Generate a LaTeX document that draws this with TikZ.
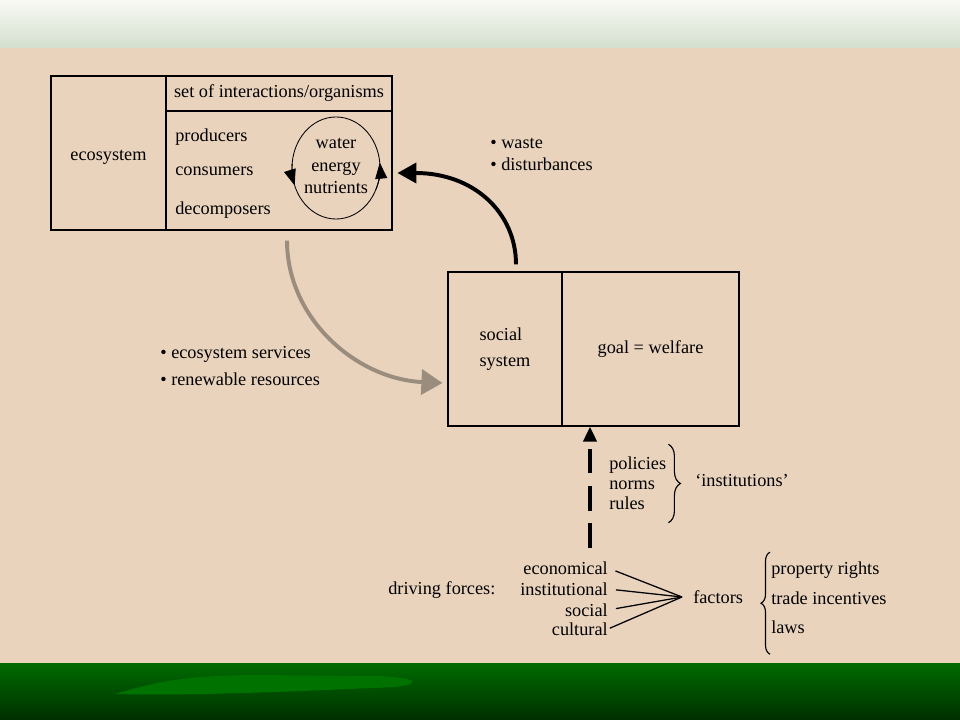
\documentclass[tikz,border=0pt]{standalone}
\usepackage{fontspec}
\setmainfont{Liberation Serif}
\usetikzlibrary{positioning,arrows.meta,shapes.geometric,decorations.pathreplacing}
\definecolor{beige}{RGB}{233,211,189}
\definecolor{skytop}{RGB}{249,249,244}
\definecolor{skybot}{RGB}{211,223,206}
\definecolor{grasstop}{RGB}{0,108,0}
\definecolor{grassbot}{RGB}{0,46,0}
\definecolor{grasslight}{RGB}{0,114,0}
\definecolor{flowgray}{RGB}{155,141,126}

\begin{document}
\begin{tikzpicture}[x=0.025cm, y=-0.025cm,
	cell/.style={rectangle, draw=black, line width=0.8pt, inner sep=0pt, font=\fontsize{13}{16}\selectfont},
	txt/.style={inner sep=0pt, font=\fontsize{13}{16}\selectfont},
	wasteflow/.style={line width=2.8pt, -{Triangle[length=0.475cm, width=0.5cm]}},
	serviceflow/.style={color=flowgray, line width=2.8pt, -{Triangle[length=0.525cm, width=0.625cm]}},
	instflow/.style={line width=3pt, dash pattern=on 17.5pt off 9pt, -{Triangle[length=0.375cm, width=0.325cm]}},
	loopflow/.style={line width=0.6pt, -{Triangle[length=0.4cm, width=0.3cm]}},
	fan/.style={line width=0.9pt, shorten <=0.2cm},
	brace/.style={decorate, line width=0.8pt}
	]

	\useasboundingbox (0,0) rectangle (960,720);
	\fill[top color=skytop, bottom color=skybot] (0,0) rectangle (960,48);
	\fill[beige] (0,48) rectangle (960,663);
	\fill[top color=grasstop, bottom color=grassbot] (0,663) rectangle (960,720);
	\fill[grasslight] (115,694) .. controls (150,684) and (175,676) .. (250,675) -- (380,676) .. controls (415,678) and (425,683) .. (395,687) .. controls (300,691) and (200,696) .. (115,694) -- cycle;

	\node (ecocell) [cell, text height=0.45cm, minimum width=2.875cm, minimum height=3.85cm] at (108.5,153) {ecosystem};
	\node (ecohead) [cell, minimum width=5.65cm, minimum height=0.875cm] at (279,93.5) {set of interactions/organisms};
	\node (ecobody) [cell, minimum width=5.65cm, minimum height=2.975cm] at (279,170.5) {};
		\node (producers) [txt, anchor=west] at (175,137) {producers};
		\node (consumers) [txt, anchor=west] at (175,171) {consumers};
		\node (decomposers) [txt, anchor=west] at (175,210) {decomposers};
		\node (nutloop) [ellipse, draw, line width=0.6pt, minimum width=2.2cm, minimum height=2.55cm, inner sep=0pt] at (336,168) {};
		\node (nuttext) [txt, align=center] at (336,166) {water\\energy\\nutrients};

	\node (soc) [cell, align=left, font=\fontsize{13}{19}\selectfont, minimum width=2.85cm, minimum height=3.85cm] at (505,349) {social\\system};
	\node (goal) [cell, minimum width=4.425cm, minimum height=3.85cm] at (650.5,349) {goal = welfare};

	\node (waste) [txt, align=left, anchor=west] at (490,154.5) {\textbullet\ waste\\\textbullet\ disturbances};
	\node (services) [txt, align=left, anchor=west, font=\fontsize{13}{19}\selectfont] at (160,366) {\textbullet\ ecosystem services\\\textbullet\ renewable resources};

	\node (policies) [txt, align=left, anchor=west, font=\fontsize{13}{14.2}\selectfont] at (609,483) {policies\\norms\\rules};
	\node (institutions) [txt, anchor=west] at (695,481) {`institutions'};

	\node (driving) [txt, anchor=west] at (388,590) {driving forces:};
		\node (econ) [txt, anchor=east] at (608,568) {economical};
		\node (inst) [txt, anchor=east] at (608,589) {institutional};
		\node (socf) [txt, anchor=east] at (608,610) {social};
		\node (cult) [txt, anchor=east] at (608,629) {cultural};
	\node (factors) [txt, anchor=west] at (693,597) {factors};
		\node (factorlist) [txt, align=left, anchor=west, font=\fontsize{13}{21}\selectfont] at (771,598) {property rights\\trade incentives\\laws};

	\coordinate (hub) at ([xshift=-0.275cm]factors.west);
	\coordinate (instbase) at (590,548);

	\draw [loopflow] ([shift={(175:1.1cm and 1.275cm)}]nutloop.center) arc[start angle=175, end angle=200, x radius=1.1cm, y radius=1.275cm];
	\draw [loopflow] ([shift={(-25:1.1cm and 1.275cm)}]nutloop.center) arc[start angle=-25, end angle=6, x radius=1.1cm, y radius=1.275cm];

	\draw [wasteflow] ([xshift=0.275cm, yshift=0.175cm]soc.north) .. controls +(0,1.3cm) and +(1.9cm,0) .. ([xshift=0.425cm, yshift=-0.125cm]nutloop.east);
	\draw [serviceflow] ([xshift=0.2cm, yshift=-0.25cm]ecobody.south) .. controls +(0,-1.95cm) and +(-2.15cm,0.1cm) .. ([xshift=-0.125cm, yshift=-0.85cm]soc.west);
	\draw [instflow] (instbase) -- (instbase |- goal.south);

	\draw [brace, decoration={brace, amplitude=0.3cm}] ([xshift=0.05cm, yshift=0.3cm]policies.north east) -- ([xshift=0.05cm, yshift=-0.325cm]policies.south east);
	\draw [brace, decoration={brace, amplitude=0.225cm}] ([xshift=-0.025cm, yshift=-0.5cm]factorlist.south west) -- ([xshift=-0.025cm, yshift=0.24cm]factorlist.north west);

	\draw [fan] (econ.east) -- (hub);
	\draw [fan] (inst.east) -- (hub);
	\draw [fan] (socf.east) -- (hub);
	\draw [fan, shorten <=0.05cm] (cult.east) -- (hub);

\end{tikzpicture}
\end{document}
